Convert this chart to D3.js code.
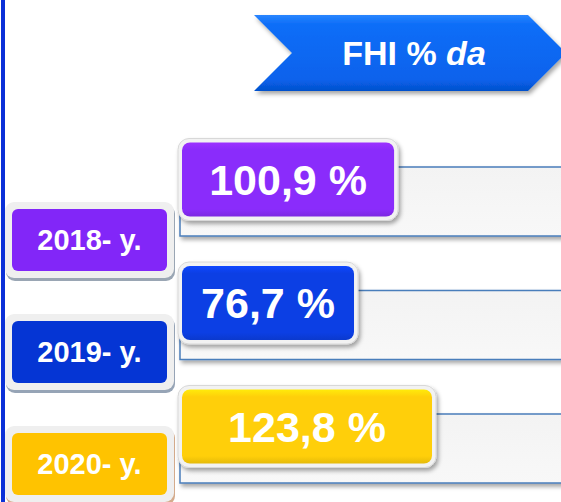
<!DOCTYPE html>
<html lang="en">

<head>
	<meta charset="UTF-8">
	<title>FHI % da</title>
	<script src="https://cdn.jsdelivr.net/npm/d3@7/dist/d3.min.js" charset="UTF-8"></script>
	<style>
		body { margin: 0; background: #fff; }
		svg { display: block; font-family: "Liberation Sans", Arial, sans-serif; }
	</style>
</head>

<body>
	<div id="chart"></div>

	<script type="text/javascript">
	// data
	let years = ['2018- y.', '2019- y.', '2020- y.'];
	let values = [100.9, 76.7, 123.8];
	let title = 'FHI % ';
	let titleItalic = 'da';

	// colours per row
	let valueColors = ['#8a2cfb', '#0c3fe4', '#ffcf0a'];
	let yearColors = ['#8226f8', '#0535d4', '#ffc300'];
	let yearShadow = ['#9aa6b4', '#96a4b6', '#d4ab8c'];

	let width = 561,
		height = 502;

	let svg = d3.select('#chart')
		.append('svg')
		.attr('width', width)
		.attr('height', height);

	let defs = svg.append('defs');
	let shadow = defs.append('filter').attr('id', 'shadow')
		.attr('x', '-10%').attr('y', '-10%').attr('width', '130%').attr('height', '140%');
	shadow.append('feDropShadow')
		.attr('dx', 2).attr('dy', 3).attr('stdDeviation', 2)
		.attr('flood-color', '#000').attr('flood-opacity', 0.35);

	let arrowGrad = defs.append('linearGradient').attr('id', 'arrowGrad')
		.attr('x1', 0).attr('y1', 0).attr('x2', 0).attr('y2', 1);
	arrowGrad.append('stop').attr('offset', '0%').attr('stop-color', '#2a86ff');
	arrowGrad.append('stop').attr('offset', '12%').attr('stop-color', '#0d6ef8');
	arrowGrad.append('stop').attr('offset', '85%').attr('stop-color', '#0862ec');
	arrowGrad.append('stop').attr('offset', '100%').attr('stop-color', '#0550cc');

	let barGrad = defs.append('linearGradient').attr('id', 'barGrad')
		.attr('x1', 0).attr('y1', 0).attr('x2', 0).attr('y2', 1);
	barGrad.append('stop').attr('offset', '0%').attr('stop-color', '#f3f3f3');
	barGrad.append('stop').attr('offset', '100%').attr('stop-color', '#f8f8f8');

	valueColors.forEach((c, i) => {
		let g = defs.append('linearGradient').attr('id', 'vg' + i)
			.attr('x1', 0).attr('y1', 0).attr('x2', 0).attr('y2', 1);
		g.append('stop').attr('offset', '0%').attr('stop-color', d3.color(c).brighter(0.35));
		g.append('stop').attr('offset', '10%').attr('stop-color', c);
		g.append('stop').attr('offset', '90%').attr('stop-color', c);
		g.append('stop').attr('offset', '100%').attr('stop-color', d3.color(c).darker(0.3));
	});

	// scales
	let rowY = d3.scalePoint().domain(years).range([167, 414]);
	let yearY = d3.scalePoint().domain(years).range([209, 433]);
	let boxW = d3.scaleLinear().domain([0, 150]).range([45, 293.4]);

	let locale = d3.formatLocale({ decimal: ',', thousands: ' ', grouping: [3], currency: ['', ''] });
	let fmt = locale.format('.1f');

	let rows = years.map((y, i) => ({ year: y, value: values[i], i: i }));

	// left rule
	svg.append('rect')
		.attr('x', 1).attr('y', 0)
		.attr('width', 4).attr('height', height)
		.attr('fill', '#0a30d8');

	// title arrow
	let ax = 254, ay = 15, ah = 76, aw = 274, notch = 38;
	svg.append('path')
		.attr('d', d3.line()([
			[ax, ay], [ax + aw, ay], [ax + aw + notch, ay + ah / 2],
			[ax + aw, ay + ah], [ax, ay + ah], [ax + notch, ay + ah / 2]
		]) + 'Z')
		.attr('fill', 'url(#arrowGrad)')
		.attr('filter', 'url(#shadow)');

	let t = svg.append('text')
		.attr('x', 414).attr('y', 65)
		.attr('text-anchor', 'middle')
		.attr('fill', '#fff')
		.attr('font-size', 34)
		.attr('font-weight', 'bold');
	t.append('tspan').text(title);
	t.append('tspan').attr('font-style', 'italic').text(titleItalic);

	// background bars
	let barH = 69;
	let bars = svg.selectAll('g.bar').data(rows).enter().append('g').attr('class', 'bar');
	bars.append('rect')
		.attr('x', 180).attr('y', d => rowY(d.year))
		.attr('width', width).attr('height', barH)
		.attr('fill', 'url(#barGrad)')
		.attr('stroke', '#4a7ebb').attr('stroke-width', 1.5)
		.attr('filter', 'url(#shadow)');

	// year boxes
	let yW = 155, yH = 62, yPad = 7;
	let yb = svg.selectAll('g.year').data(rows).enter().append('g').attr('class', 'year');
	yb.append('rect')
		.attr('x', 12 - yPad + 1).attr('y', d => yearY(d.year) - yPad + 3)
		.attr('width', yW + yPad * 2).attr('height', yH + yPad * 2)
		.attr('rx', 9)
		.attr('fill', d => yearShadow[d.i]);
	yb.append('rect')
		.attr('x', 12 - yPad).attr('y', d => yearY(d.year) - yPad)
		.attr('width', yW + yPad * 2).attr('height', yH + yPad * 2)
		.attr('rx', 9)
		.attr('fill', '#efefef');
	yb.append('rect')
		.attr('x', 12).attr('y', d => yearY(d.year))
		.attr('width', yW).attr('height', yH)
		.attr('rx', 6)
		.attr('fill', d => yearColors[d.i]);
	yb.append('text')
		.attr('x', 12 + yW / 2).attr('y', d => yearY(d.year) + yH / 2 + 10)
		.attr('text-anchor', 'middle')
		.attr('fill', '#fff')
		.attr('font-size', 29)
		.attr('font-weight', 'bold')
		.text(d => d.year);

	// value boxes
	let vH = 74, vPad = 4;
	let vb = svg.selectAll('g.value').data(rows).enter().append('g').attr('class', 'value');
	vb.append('rect')
		.attr('x', 182 - vPad).attr('y', d => rowY(d.year) - 24.5 - vPad)
		.attr('width', d => boxW(d.value) + vPad * 2).attr('height', vH + vPad * 2)
		.attr('rx', 11)
		.attr('fill', '#f2f2f2')
		.attr('stroke', '#d8d8d8').attr('stroke-width', 1)
		.attr('filter', 'url(#shadow)');
	vb.append('rect')
		.attr('x', 182).attr('y', d => rowY(d.year) - 24.5)
		.attr('width', d => boxW(d.value)).attr('height', vH)
		.attr('rx', 8)
		.attr('fill', d => 'url(#vg' + d.i + ')');
	vb.append('text')
		.attr('x', d => 182 + boxW(d.value) / 2)
		.attr('y', d => rowY(d.year) - 24.5 + vH / 2 + 15)
		.attr('text-anchor', 'middle')
		.attr('fill', '#fff')
		.attr('font-size', 43)
		.attr('font-weight', 'bold')
		.text(d => fmt(d.value) + ' %');
	</script>
</body>

</html>
